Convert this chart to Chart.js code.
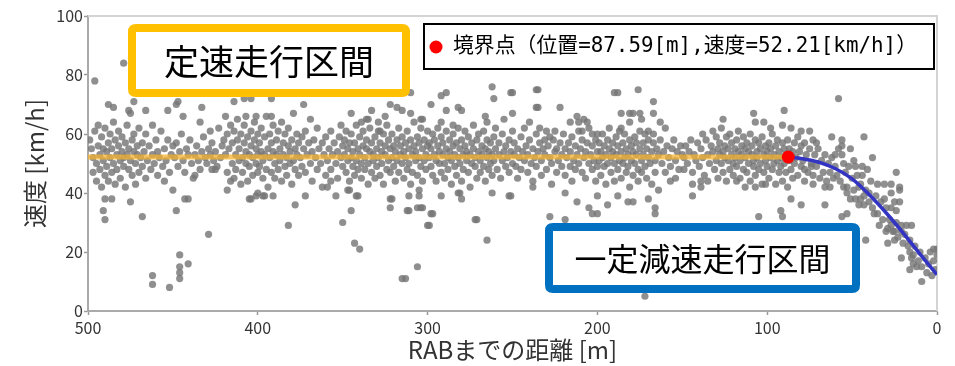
<!DOCTYPE html>
<html>
<head>
<meta charset="utf-8">
<script src="https://cdn.jsdelivr.net/npm/chart.js@4.4.1/dist/chart.umd.min.js"></script>
<style>
  html, body { margin: 0; padding: 0; background: #fff; }
</style>
</head>
<body>
<canvas id="chart_kyokai" width="955" height="366"></canvas>
<script>
// 観測データ [RABまでの距離 m, 速度 km/h] 区間ごと
const pts500 = [[499,58],[498,55],[497,52],[497,47],[496,61],[496,78],[495,50],[495,44],[494,56],[494,63],[493,53],[493,48],[492,59],[492,42],[491,51],[491,55],[491,34],[490,46],[490,62],[490,31],[490,38],[489,54],[489,49],[488,57],[488,44],[488,70],[487,52],[487,60],[486,47],[486,55],[486,38],[485,50],[485,64],[485,69],[484,58],[484,43],[483,53],[483,48],[482,56],[482,61],[481,51],[481,45],[480,54],[480,59],[479,49],[479,52],[479,84],[478,57],[478,42],[477,53],[477,63],[476,48],[476,55],[476,68],[475,51],[475,67],[475,37],[474,58],[474,46],[473,54],[473,60],[473,71],[472,50],[472,43],[471,56],[471,53],[470,47],[470,62],[469,52],[468,57],[468,49],[468,32],[467,54],[466,45],[466,60],[466,68],[465,51],[464,56],[463,48],[462,53],[462,63],[462,12],[462,9],[461,50],[460,58],[459,46],[459,54],[458,52],[457,61],[456,49],[455,55],[455,44],[454,51],[453,58],[453,68],[452,47],[452,8],[451,53],[450,56],[450,41]];
const pts450 = [[449,52],[448,57],[448,34],[448,70],[447,49],[447,71],[446,54],[446,19],[446,15],[446,13],[446,11],[445,60],[444,51],[444,66],[443,47],[443,38],[442,55],[441,53],[441,16],[441,38],[440,58],[439,50],[438,45],[437,53],[437,46],[436,56],[435,51],[434,48],[434,64],[433,54],[433,69],[432,59],[431,52],[430,50],[429,55],[429,26],[428,53],[428,61],[427,57],[427,48],[426,51],[425,54],[425,48],[424,49],[423,62],[422,52],[421,56],[420,58],[419,53],[419,66],[418,60],[418,47],[418,41],[417,55],[416,63],[416,44],[415,50],[415,57],[414,45],[414,61],[414,71],[413,53],[413,48],[412,58],[412,65],[411,51],[411,55],[410,43],[410,60],[409,52],[409,47],[408,57],[408,63],[408,72],[407,50],[407,54],[407,66],[406,44],[406,59],[405,53],[405,49],[405,38],[404,61],[404,56],[404,72],[404,38],[403,46],[403,52],[402,58],[402,64],[401,50],[401,55],[401,39],[401,66],[400,47],[400,60],[400,53],[400,40]];
const pts400 = [[399,57],[399,49],[398,54],[398,62],[397,51],[397,45],[397,39],[396,59],[396,53],[396,39],[395,48],[395,66],[394,55],[394,42],[393,52],[393,60],[392,57],[392,47],[392,72],[392,66],[391,54],[391,63],[391,39],[390,50],[390,45],[389,58],[389,53],[388,61],[388,48],[387,55],[387,51],[386,64],[386,44],[385,53],[385,57],[384,49],[384,60],[383,52],[383,46],[382,56],[382,62],[382,29],[381,50],[381,54],[380,58],[380,43],[379,51],[379,67],[378,55],[378,48],[378,36],[377,60],[377,53],[376,46],[376,57],[375,52],[374,59],[374,49],[373,55],[373,70],[372,61],[372,47],[372,39],[371,53],[370,57],[369,50],[369,65],[368,54],[368,44],[367,58],[366,52],[365,48],[365,62],[364,55],[363,50],[362,57],[362,42],[361,53],[360,46],[360,59],[359,51],[359,42],[358,55],[357,48],[357,61],[357,44],[356,53],[355,57],[354,50],[354,39],[353,54],[353,45],[352,59],[351,52],[351,63],[350,49],[350,56],[350,30]];
const pts350 = [[349,53],[349,58],[348,47],[348,61],[347,51],[347,55],[347,41],[346,44],[346,57],[346,41],[345,52],[345,60],[345,67],[345,34],[344,49],[344,54],[343,57],[343,46],[343,23],[342,51],[342,63],[342,39],[341,55],[341,48],[341,39],[340,53],[340,59],[340,21],[339,50],[339,45],[339,64],[338,56],[338,61],[337,52],[337,48],[336,55],[336,58],[336,65],[335,50],[335,43],[335,65],[334,54],[334,62],[333,47],[333,57],[333,68],[332,51],[332,53],[331,59],[331,45],[330,55],[330,49],[329,52],[329,61],[329,64],[328,57],[328,46],[328,61],[327,54],[327,50],[326,60],[326,43],[325,53],[325,56],[325,66],[324,48],[324,63],[323,51],[323,58],[322,55],[322,47],[322,70],[322,38],[322,35],[321,52],[321,60],[321,38],[320,49],[320,56],[319,54],[319,44],[318,58],[318,51],[318,69],[317,62],[317,47],[316,53],[316,56],[315,50],[315,59],[315,68],[315,11],[314,45],[314,54],[313,57],[313,52],[313,11],[312,48],[312,61],[312,34],[311,55],[311,50],[311,39],[311,34],[310,58],[310,43],[310,67],[310,74],[309,53],[309,47],[308,56],[308,64],[307,51],[307,54],[306,59],[306,46],[306,15],[306,35],[305,52],[305,57],[305,41],[305,39],[304,49],[304,62],[304,65],[304,35],[303,55],[303,44],[303,35],[303,65],[302,51],[302,58],[301,53],[301,48],[300,56],[300,61],[300,29]];
const pts300 = [[299,52],[299,57],[299,29],[298,49],[298,55],[298,70],[298,33],[297,60],[297,46],[297,33],[296,53],[296,58],[295,51],[295,44],[294,56],[294,62],[293,50],[293,54],[292,47],[292,59],[292,73],[292,64],[292,39],[291,53],[291,57],[290,50],[290,45],[289,55],[289,61],[289,74],[289,68],[288,52],[288,48],[287,58],[287,54],[286,43],[286,51],[285,56],[285,60],[285,63],[284,49],[284,53],[283,57],[283,46],[282,52],[282,62],[282,69],[282,40],[281,55],[281,50],[281,40],[280,58],[280,44],[280,68],[280,38],[279,53],[279,48],[278,56],[278,61],[277,51],[277,54],[276,47],[276,59],[275,53],[275,42],[274,57],[274,50],[273,55],[273,63],[272,49],[272,52],[272,31],[271,58],[271,45],[271,31],[270,54],[270,60],[269,51],[269,47],[268,56],[268,53],[267,61],[267,49],[266,55],[266,44],[266,66],[265,52],[265,58],[265,64],[265,24],[264,48],[264,54],[263,57],[263,50],[262,53],[262,46],[262,76],[262,40],[261,59],[261,51],[261,72],[260,55],[260,62],[259,48],[258,53],[258,57],[257,45],[256,51],[256,60],[255,54],[255,65],[254,49],[254,56],[253,52],[252,58],[252,47],[252,39],[251,54],[251,74],[251,39],[250,50],[250,61],[250,74],[250,67]];
const pts250 = [[249,53],[249,57],[248,49],[247,55],[247,45],[246,52],[245,59],[245,48],[244,54],[243,51],[243,62],[242,56],[241,47],[241,53],[240,58],[240,64],[239,50],[238,55],[238,44],[238,42],[237,52],[236,60],[236,49],[236,75],[236,69],[235,54],[235,75],[235,69],[234,57],[234,62],[233,46],[233,51],[232,55],[231,53],[231,58],[230,48],[230,61],[229,56],[228,52],[228,59],[228,32],[227,50],[227,43],[226,58],[225,54],[225,61],[224,47],[224,55],[223,51],[222,57],[222,69],[221,49],[221,53],[220,60],[219,46],[219,55],[219,40],[219,31],[218,52],[217,57],[216,49],[216,54],[216,64],[215,44],[215,59],[214,51],[213,56],[213,48],[212,53],[212,66],[212,37],[211,61],[211,50],[211,64],[210,55],[209,47],[209,58],[209,61],[208,52],[208,65],[207,54],[207,45],[206,57],[206,64],[205,50],[205,62],[205,35],[204,53],[203,48],[203,56],[203,60],[203,33],[202,51],[201,58],[201,44],[200,54],[200,49],[200,60],[200,33],[200,39]];
const pts200 = [[199,57],[199,51],[198,54],[198,46],[197,60],[197,52],[196,49],[196,56],[195,53],[195,43],[194,58],[194,50],[194,36],[193,55],[193,62],[192,47],[192,52],[191,57],[191,54],[190,44],[190,50],[190,74],[189,59],[189,53],[188,48],[188,56],[188,74],[188,39],[187,51],[187,61],[186,54],[186,45],[186,67],[186,62],[185,57],[185,50],[184,52],[184,60],[183,47],[183,55],[182,53],[182,49],[182,37],[181,58],[181,42],[181,67],[181,64],[180,51],[180,56],[179,54],[179,46],[179,67],[179,37],[178,59],[178,50],[177,53],[177,57],[176,48],[176,44],[176,75],[175,55],[175,61],[175,67],[174,51],[174,47],[174,65],[173,57],[173,53],[172,49],[172,60],[172,5],[171,55],[171,45],[170,52],[170,58],[170,61],[170,38],[169,50],[168,54],[168,43],[167,57],[167,71],[167,67],[167,60],[166,51],[166,47],[166,35],[166,33],[165,55],[164,53],[164,41],[163,58],[163,64],[162,50],[161,54],[160,47],[160,62],[159,56],[158,52],[157,49],[157,44],[156,55],[155,58],[154,51],[154,45],[153,54],[152,48],[151,56],[150,53]];
const pts150 = [[149,52],[149,48],[148,56],[147,50],[146,54],[145,58],[144,47],[144,43],[144,39],[143,53],[142,51],[141,57],[140,49],[139,55],[139,44],[139,42],[138,52],[138,60],[137,46],[136,58],[135,53],[135,44],[134,50],[133,56],[132,54],[132,61],[131,48],[130,59],[130,51],[129,55],[129,45],[128,53],[128,57],[127,50],[127,62],[126,54],[126,47],[126,65],[125,56],[125,52],[124,59],[124,44],[123,51],[123,55],[122,48],[122,60],[121,53],[121,57],[120,50],[120,46],[119,55],[119,52],[118,58],[118,49],[118,44],[117,54],[117,61],[116,51],[116,45],[115,56],[115,53],[114,48],[114,59],[113,52],[113,55],[113,42],[112,47],[112,57],[111,50],[111,54],[110,60],[110,44],[109,53],[109,56],[108,49],[108,51],[108,67],[107,58],[107,46],[107,64],[107,42],[106,54],[106,52],[105,57],[105,48],[105,32],[104,50],[104,55],[103,43],[103,59],[102,53],[102,47],[102,64],[101,56],[101,51],[101,43],[100,49],[100,54]];
const pts100 = [[99,57],[99,45],[98,52],[98,55],[98,62],[97,48],[97,60],[96,53],[96,50],[95,56],[95,43],[94,51],[94,58],[93,47],[93,54],[92,52],[92,49],[92,34],[91,57],[91,44],[91,32],[91,63],[90,55],[90,50],[90,68],[89,53],[89,47],[88,58],[88,42],[87,51],[87,55],[86,48],[86,62],[86,38],[85,54],[85,45],[84,57],[84,50],[83,52],[82,46],[82,59],[81,54],[80,49],[80,56],[80,61],[80,36],[79,51],[78,44],[78,57],[78,48],[77,53],[76,47],[75,55],[75,61],[74,50],[74,49],[73,46],[73,58],[73,43],[72,53],[71,49],[71,57],[70,55],[69,45],[68,51],[67,47],[66,53],[66,36],[66,42],[65,44],[64,50],[63,47],[63,42],[62,52],[62,59],[61,45],[60,49]];
const pts60 = [[60,53],[59,46],[58,55],[58,72],[57,44],[56,58],[56,56],[56,53],[56,32],[55,50],[55,42],[54,47],[53,40],[53,42],[53,33],[52,49],[51,55],[51,38],[50,45],[49,41],[49,51],[48,49],[48,38],[47,46],[46,42],[46,36],[45,38],[45,43],[44,46],[44,49],[43,36],[43,59],[43,39],[42,41],[42,24],[41,48],[40,37],[40,40],[39,44],[38,35],[38,52],[37,33],[36,39],[35,33],[35,43],[34,29],[33,37],[32,31],[31,43],[31,38],[30,35],[30,27],[29,28],[29,23],[28,31],[27,35],[27,43],[27,40],[27,29],[26,27],[25,24],[25,37],[25,27],[24,30],[24,47],[24,34],[23,25],[22,42],[22,37],[22,41],[21,29],[21,18],[21,27],[20,23],[19,26],[18,29],[17,22],[16,24],[16,20],[16,14],[15,18],[15,29],[14,19],[14,16],[13,22],[12,15],[11,17],[10,20],[9,15],[9,10],[7,18],[6,13],[5,16],[4,20],[3,12],[2,17],[2,21],[1,14],[0,19],[0,21]];

// 境界点
const boundaryX = 87.59;
const boundaryY = 52.21;

// 定速走行区間 (水平線)
const constX = [500, boundaryX];
const constY = [boundaryY, boundaryY];

// 一定減速走行区間 (曲線)
const decelX = [boundaryX, 80, 70, 60, 50, 40, 30, 20, 10, 0];
const decelY = [boundaryY, 51.7, 50.5, 48.3, 44.8, 39.5, 33.3, 26.5, 19.3, 12.3];

const xTicks = [500, 400, 300, 200, 100, 0];
const yTicks = [0, 20, 40, 60, 80, 100];

const sectionLabels = ["定速走行区間", "一定減速走行区間"];
const legendText = "境界点（位置=" + boundaryX + "[m],速度=" + boundaryY + "[km/h]）";

const scatterData = [].concat(pts500, pts450, pts400, pts350, pts300, pts250, pts200, pts150, pts100, pts60)
  .map(p => ({ x: p[0], y: p[1] }));
const constData = constX.map((x, i) => ({ x: x, y: constY[i] }));
const decelData = decelX.map((x, i) => ({ x: x, y: decelY[i] }));

const jpFont = "'Noto Sans CJK JP', 'Noto Sans', sans-serif";

function roundBox(ctx, x, y, w, h, r) {
  ctx.beginPath();
  ctx.moveTo(x + r, y);
  ctx.lineTo(x + w - r, y);
  ctx.quadraticCurveTo(x + w, y, x + w, y + r);
  ctx.lineTo(x + w, y + h - r);
  ctx.quadraticCurveTo(x + w, y + h, x + w - r, y + h);
  ctx.lineTo(x + r, y + h);
  ctx.quadraticCurveTo(x, y + h, x, y + h - r);
  ctx.lineTo(x, y + r);
  ctx.quadraticCurveTo(x, y, x + r, y);
  ctx.closePath();
}

function drawSection(ctx, x, y, w, h, color, text, size) {
  ctx.save();
  roundBox(ctx, x, y, w, h, 4);
  ctx.fillStyle = "#ffffff";
  ctx.fill();
  ctx.lineWidth = 8;
  ctx.strokeStyle = color;
  ctx.stroke();
  ctx.fillStyle = "#000000";
  ctx.font = size + "px " + jpFont;
  ctx.textAlign = "center";
  ctx.textBaseline = "middle";
  ctx.fillText(text, x + w / 2, y + h / 2 + 1);
  ctx.restore();
}

const framePlugin = {
  id: "frame",
  beforeDatasetsDraw(chart) {
    const { ctx, chartArea } = chart;
    ctx.save();
    ctx.strokeStyle = "#d4d4d4";
    ctx.lineWidth = 2;
    ctx.beginPath();
    ctx.moveTo(chartArea.left, chartArea.top);
    ctx.lineTo(chartArea.right, chartArea.top);
    ctx.lineTo(chartArea.right, chartArea.bottom);
    ctx.stroke();
    ctx.restore();
  },
  afterDatasetsDraw(chart) {
    const ctx = chart.ctx;
    // 区間ラベル
    drawSection(ctx, 132, 28, 274, 65, "#FFC000", sectionLabels[0], 35);
    drawSection(ctx, 549, 227, 307, 62, "#0070C0", sectionLabels[1], 32);

    // 凡例
    ctx.save();
    ctx.fillStyle = "#ffffff";
    ctx.fillRect(424, 24, 510, 45);
    ctx.strokeStyle = "#000000";
    ctx.lineWidth = 2;
    ctx.strokeRect(424, 24, 510, 45);
    ctx.fillStyle = "#ff0000";
    ctx.beginPath();
    ctx.arc(436, 47, 6.5, 0, Math.PI * 2);
    ctx.fill();
    ctx.fillStyle = "#000000";
    ctx.font = "21px 'DejaVu Sans Mono', 'Noto Sans CJK JP', monospace";
    ctx.textBaseline = "middle";
    ctx.textAlign = "left";
    const w = ctx.measureText(legendText).width;
    const target = 464;
    ctx.translate(453, 47);
    if (w > target) ctx.scale(target / w, 1);
    ctx.fillText(legendText, 0, 0);
    ctx.restore();
  }
};

const ctxk = document.getElementById("chart_kyokai").getContext("2d");
const chart = new Chart(ctxk, {
  type: "scatter",
  data: {
    datasets: [
      {
        label: "境界点",
        data: [{ x: boundaryX, y: boundaryY }],
        pointRadius: 6.5,
        backgroundColor: "#ff0000",
        borderWidth: 0,
      },
      {
        label: "一定減速",
        data: decelData,
        showLine: true,
        borderColor: "#3434c4",
        borderWidth: 3.5,
        pointRadius: 0,
        cubicInterpolationMode: "monotone",
      },
      {
        label: "定速",
        data: constData,
        showLine: true,
        borderColor: "rgba(246, 178, 48, 0.75)",
        borderWidth: 5,
        pointRadius: 0,
      },
      {
        label: "観測",
        data: scatterData,
        pointRadius: 3.6,
        backgroundColor: "rgba(118, 118, 118, 0.82)",
        borderWidth: 0,
      },
    ],
  },
  options: {
    responsive: false,
    animation: false,
    events: [],
    layout: {
      padding: { left: 0, top: 16, right: 18, bottom: 0 },
    },
    plugins: {
      legend: { display: false },
      tooltip: { enabled: false },
      title: { display: false },
    },
    scales: {
      x: {
        type: "linear",
        reverse: true,
        min: 0,
        max: 500,
        afterBuildTicks: (scale) => { scale.ticks = xTicks.map(v => ({ value: v })); },
        afterFit: (scale) => { scale.height = 55; },
        grid: { drawOnChartArea: false, tickLength: 4, color: "#999999", tickWidth: 1.5 },
        border: { color: "#aaaaaa", width: 2 },
        ticks: { color: "#333333", padding: 3, font: { family: jpFont, size: 16 }, maxRotation: 0 },
        title: {
          display: true,
          text: "RABまでの距離 [m]",
          color: "#333333",
          font: { family: jpFont, size: 24 },
          padding: { top: 0, bottom: 2 },
        },
      },
      y: {
        min: 0,
        max: 100,
        afterBuildTicks: (scale) => { scale.ticks = yTicks.map(v => ({ value: v })); },
        afterFit: (scale) => { scale.width = 88; },
        grid: { drawOnChartArea: false, tickLength: 4, color: "#999999", tickWidth: 1.5 },
        border: { color: "#aaaaaa", width: 2 },
        ticks: { color: "#333333", padding: 1, font: { family: jpFont, size: 16 } },
        title: {
          display: true,
          text: "速度 [km/h]",
          color: "#333333",
          font: { family: jpFont, size: 24 },
          padding: { top: 20, bottom: 0 },
        },
      },
    },
  },
  plugins: [framePlugin],
});
</script>
</body>
</html>
